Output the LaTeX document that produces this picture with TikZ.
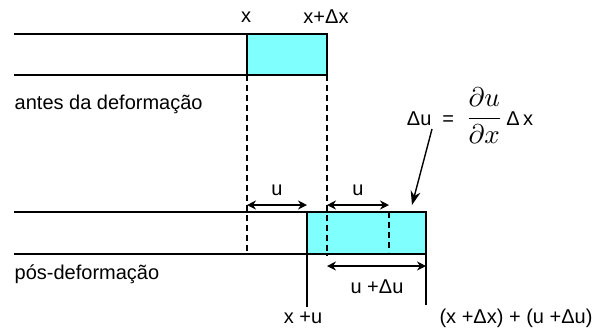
\documentclass[tikz,border=0pt]{standalone}
\usepackage{amsmath}
\usepackage{fontspec}
\setmainfont{Liberation Sans}
\usetikzlibrary{arrows.meta,positioning}
\definecolor{barcyan}{RGB}{128,255,255}

\begin{document}
\begin{tikzpicture}[x=0.5pt,y=-0.5pt,line width=0.7pt,
  dimline/.style={{Stealth[length=4.5pt,width=4.5pt]}-{Stealth[length=4.5pt,width=4.5pt]}},
  guide/.style={dash pattern=on 3pt off 2pt},
  lbl/.style={inner sep=1pt}]
\useasboundingbox (0,0) rectangle (610,334);
% Bar before deformation
\draw[fill=barcyan] (247,34) rectangle (327,75);
\draw (14,34) -- (247,34) (14,75) -- (247,75);
% Bar after deformation
\draw[fill=barcyan] (307,212) rectangle (426,254);
\draw (14,212) -- (307,212) (14,254) -- (307,254);
% Points
\coordinate (xtop) at (247,75);
\coordinate (xbot) at (247,254);
\coordinate (dxtop) at (327,75);
\coordinate (dxbot) at (327,256);
\coordinate (uend) at (389,212);
\coordinate (uendbot) at (389,252);
\coordinate (xu) at (307,254);
\coordinate (xufoot) at (307,307);
\coordinate (rend) at (426,254);
\coordinate (rendfoot) at (426,305);
% Dashed guides
\draw[guide] (xtop) -- (xbot);
\draw[guide] (dxtop) -- (dxbot);
\draw[guide] (uend) -- (uendbot);
% Solid markers
\draw (xu) -- (xufoot);
\draw (rend) -- (rendfoot);
% Displacements
\coordinate (ua) at (247,205);
\coordinate (ub) at (307,205);
\coordinate (uc) at (327,205);
\coordinate (ud) at (389,205);
\coordinate (va) at (327,266);
\coordinate (vb) at (426,266);
\draw[dimline] (ua) -- (ub);
\draw[dimline] (uc) -- (ud);
\draw[dimline] (va) -- (vb);
% Labels
\node[lbl] (x) at (246,17) {x};
\node[lbl] (xdx) at (326,17) {x+Δx};
\node[lbl, anchor=west] (antes) at (12,104) {antes da deformação};
\node[lbl, anchor=west] (pos) at (12,274) {pós-deformação};
\node[lbl] (u1) at (277,190) {u};
\node[lbl] (u2) at (358,190) {u};
\node[lbl] (udu) at (377,287) {u +Δu};
\node[lbl] (xplu) at (303,318) {x +u};
\node[lbl] (total) at (516,318) {(x +Δx) + (u +Δu)};
\node[lbl] (form) at (470,116) {Δu \;=\; \scalebox{1.35}{$\dfrac{\partial u}{\partial x}$}\,Δ\,x};
\draw[-{Stealth[length=7pt,width=5pt]}] (432,129) -- (412,205);
\end{tikzpicture}
\end{document}
